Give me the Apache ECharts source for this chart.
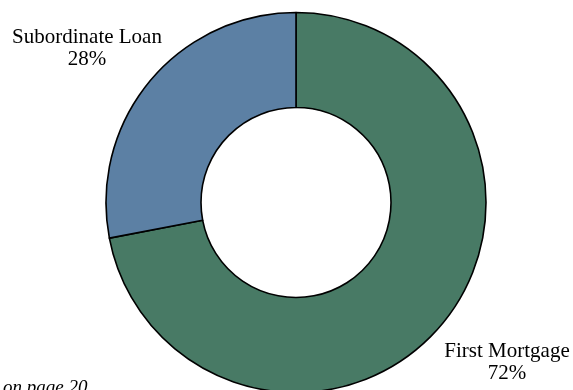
<!DOCTYPE html>
<html>
<head>
<meta charset="utf-8">
<script src="https://cdn.jsdelivr.net/npm/echarts@6/dist/echarts.min.js"></script>
<style>
  html, body { margin: 0; padding: 0; background: #fff; }
  #chart { width: 573px; height: 390px; }
</style>
</head>
<body>
<div id="chart"></div>
<script>
// Loan composition by lien position
const categories = ['First Mortgage', 'Subordinate Loan'];
const shares = [72, 28];
const sliceColors = ['#487a65', '#5c80a4'];
const footnote = 'on page 20';

// Label anchor points (centre of each two-line label)
const labelAnchors = [
  { x: 507, y: 362 },
  { x: 87, y: 48 }
];

const chart = echarts.init(document.getElementById('chart'), null, { renderer: 'canvas' });

chart.setOption({
  backgroundColor: '#ffffff',
  animation: false,
  series: [{
    type: 'pie',
    center: [296, 202.5],
    radius: [95, 190],
    startAngle: 90,
    clockwise: true,
    avoidLabelOverlap: false,
    itemStyle: { borderColor: '#000000', borderWidth: 1.6 },
    emphasis: { disabled: true },
    labelLine: { show: false },
    label: {
      show: true,
      position: 'outside',
      formatter: p => p.name + '\n' + Math.round(p.percent) + '%',
      fontFamily: '"Liberation Serif", "DejaVu Serif", serif',
      fontSize: 21,
      lineHeight: 22,
      color: '#000000',
      align: 'center'
    },
    labelLayout: p => ({
      x: labelAnchors[p.dataIndex].x,
      y: labelAnchors[p.dataIndex].y,
      align: 'center',
      verticalAlign: 'middle'
    }),
    data: categories.map((name, i) => ({
      name,
      value: shares[i],
      itemStyle: { color: sliceColors[i] }
    }))
  }],
  graphic: [{
    type: 'text',
    left: 3,
    bottom: -7,
    style: {
      text: footnote,
      font: 'italic 19px "Liberation Serif", serif',
      fill: '#000000'
    }
  }]
});
</script>
</body>
</html>
